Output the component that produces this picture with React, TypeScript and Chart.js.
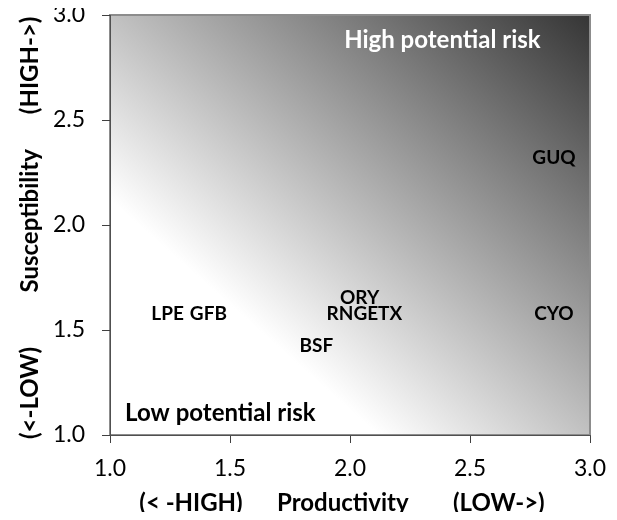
import React, { useEffect, useRef } from "react";
import { Chart, registerables } from "chart.js";

Chart.register(...registerables);

// ---- data ----
const codes = ["LPE", "GFB", "ORY", "RNGETX", "BSF", "GUQ", "CYO"];
const productivity = [1.24, 1.41, 2.04, 2.06, 1.86, 2.85, 2.85];
const susceptibility = [1.578, 1.578, 1.654, 1.578, 1.425, 2.32, 1.578];

const axisMin = 1.0;
const axisMax = 3.0;
const axisStep = 0.5;

const xTitleParts = ["(< -HIGH)", "Productivity", "(LOW->)"];
const xTitleAt = [1.3375, 1.97, 2.62];
const yTitleParts = ["(<-LOW)", "Susceptibility", "(HIGH->)"];
const yTitleAt = [1.2, 2.02, 2.76];

const zoneLabels = ["High potential risk", "Low potential risk"];
const zoneX = [2.385, 1.46];
const zoneY = [2.88, 1.105];
const zoneColors = ["#ffffff", "#000000"];

const FONT = "Lato, 'Open Sans', sans-serif";

const decorPlugin = {
  id: "decor",
  beforeDraw(chart: any) {
    const { ctx, chartArea } = chart;
    const { left, right, top, bottom } = chartArea;
    const w = right - left;
    const h = bottom - top;
    ctx.save();
    ctx.translate(left, bottom);
    ctx.scale(w, -h);
    const g = ctx.createLinearGradient(0, 0, 1, 1);
    g.addColorStop(0, "#ffffff");
    g.addColorStop(0.28, "#ffffff");
    g.addColorStop(1, "#353535");
    ctx.fillStyle = g;
    ctx.fillRect(0, 0, 1, 1);
    ctx.restore();
    ctx.save();
    ctx.strokeStyle = "#8c8c8c";
    ctx.lineWidth = 2;
    ctx.strokeRect(left, top, w, h);
    ctx.restore();
  },
  afterDatasetsDraw(chart: any) {
    const { ctx, chartArea } = chart;
    const xs = chart.scales.x;
    const ys = chart.scales.y;
    const meta = chart.getDatasetMeta(0);
    ctx.save();
    ctx.textAlign = "center";
    ctx.textBaseline = "middle";
    ctx.fillStyle = "#000000";
    ctx.font = `bold 19px ${FONT}`;
    meta.data.forEach((pt: any, i: number) => {
      ctx.fillText(codes[i], pt.x, pt.y);
    });
    ctx.font = `bold 24px ${FONT}`;
    zoneLabels.forEach((t, i) => {
      ctx.fillStyle = zoneColors[i];
      ctx.fillText(t, xs.getPixelForValue(zoneX[i]), ys.getPixelForValue(zoneY[i]));
    });
    ctx.fillStyle = "#000000";
    ctx.font = `bold 24px ${FONT}`;
    xTitleParts.forEach((t, i) => {
      ctx.fillText(t, xs.getPixelForValue(xTitleAt[i]), chartArea.bottom + 68);
    });
    yTitleParts.forEach((t, i) => {
      ctx.save();
      ctx.translate(chartArea.left - 80, ys.getPixelForValue(yTitleAt[i]));
      ctx.rotate(-Math.PI / 2);
      ctx.fillText(t, 0, 0);
      ctx.restore();
    });
    ctx.restore();
  },
};

export default function App() {
  const ref = useRef<HTMLCanvasElement | null>(null);
  useEffect(() => {
    if (!ref.current) return;
    const points = codes.map((_, i) => ({ x: productivity[i], y: susceptibility[i] }));
    const tickFmt = (v: any) => Number(v).toFixed(1);
    const chart = new Chart(ref.current, {
      type: "scatter",
      data: {
        datasets: [
          {
            label: "sites",
            data: points,
            pointRadius: 0,
            pointHoverRadius: 0,
          },
        ],
      },
      plugins: [decorPlugin],
      options: {
        animation: false,
        responsive: true,
        maintainAspectRatio: false,
        layout: { padding: { top: 29, right: 19, left: 45, bottom: 0 } },
        plugins: { legend: { display: false }, tooltip: { enabled: false }, title: { display: false } },
        scales: {
          x: {
            type: "linear",
            min: axisMin,
            max: axisMax,
            afterFit: (s: any) => {
              s.height = 77;
            },
            ticks: {
              stepSize: axisStep,
              callback: tickFmt,
              color: "#000000",
              padding: 0,
              font: { family: FONT, size: 23, lineHeight: "52px" },
              maxRotation: 0,
            },
            grid: {
              drawOnChartArea: false,
              drawTicks: true,
              tickLength: 8,
              tickColor: "#404040",
            },
            border: { display: true, color: "#505050", width: 1 },
          },
          y: {
            type: "linear",
            min: axisMin,
            max: axisMax,
            afterFit: (s: any) => {
              s.width = 57;
            },
            ticks: {
              stepSize: axisStep,
              callback: tickFmt,
              color: "#000000",
              padding: 0,
              crossAlign: "far",
              font: { family: FONT, size: 23, lineHeight: "14px" },
            },
            grid: {
              drawOnChartArea: false,
              drawTicks: true,
              tickLength: 8,
              tickColor: "#404040",
            },
            border: { display: true, color: "#505050", width: 1 },
          },
        },
      },
    });
    return () => chart.destroy();
  }, []);
  return (
    <div style={{ width: 601, height: 526, marginTop: -22, position: "relative" }}>
      <canvas ref={ref} />
    </div>
  );
}
